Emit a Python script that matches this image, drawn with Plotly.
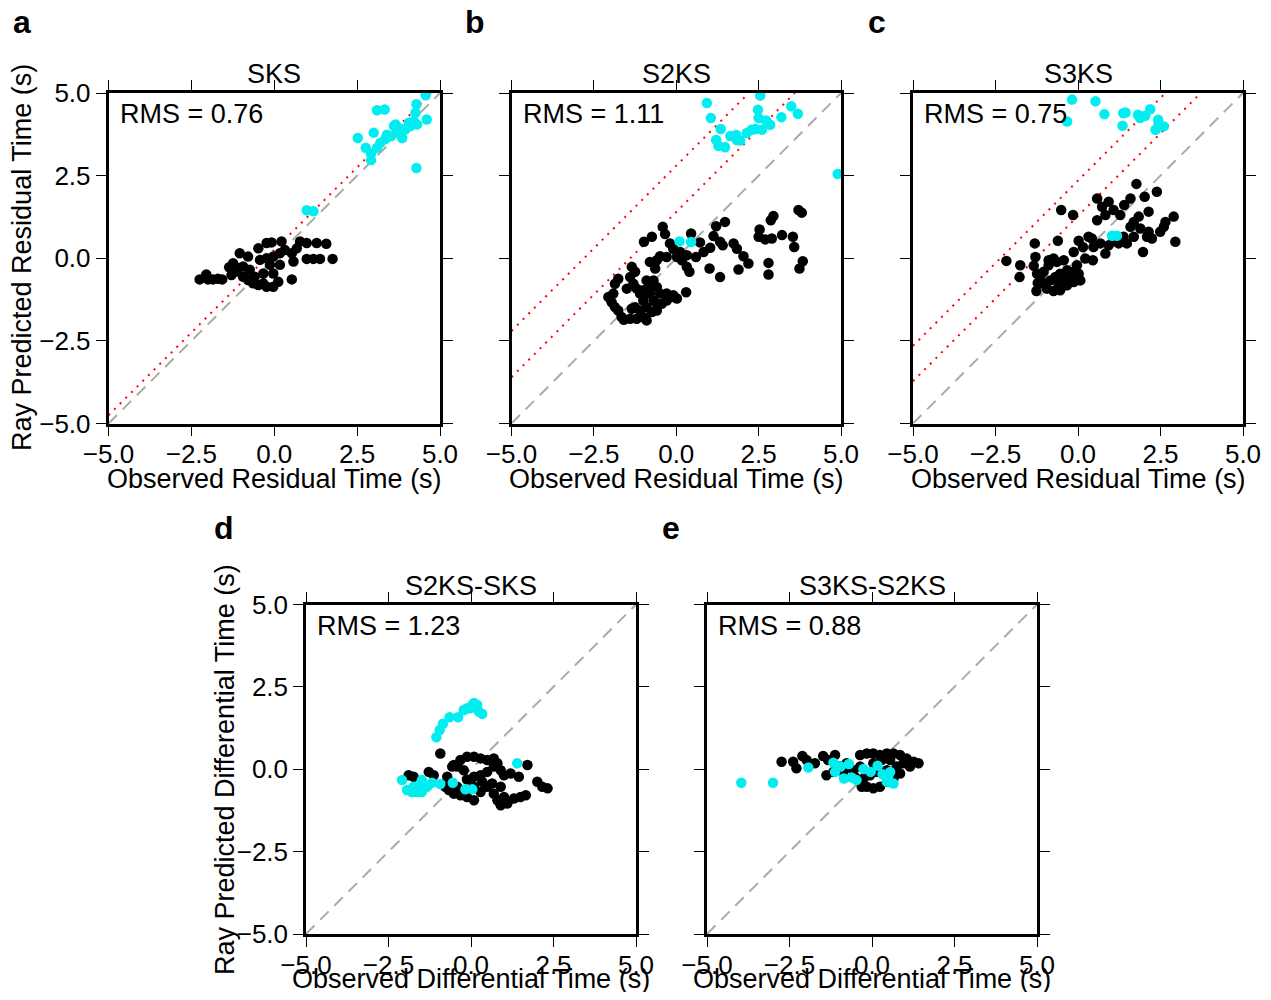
import plotly.graph_objects as go

# ---------------- data ----------------
tick_vals = [-5, -2.5, 0, 2.5, 5]
tick_text = ["\u22125.0", "\u22122.5", "0.0", "2.5", "5.0"]

panel_letters = ["a", "b", "c", "d", "e"]
panel_titles = ["SKS", "S2KS", "S3KS", "S2KS-SKS", "S3KS-S2KS"]
rms_values = [0.76, 1.11, 0.75, 1.23, 0.88]
red_offsets = [[0.25], [1.4, 2.8], [1.28, 2.35], [], []]

a_black_x = [-2.25, -2.05, -1.85, -1.57, -1.36, -1.24, -1.04, -0.79, -1.14, -0.94, -0.74, -0.64, -0.48, -0.33,
             -0.23, -0.03, 0.12, -0.48, -0.23, -0.08, 0.22, -0.03, 0.17, -0.13, -0.33, -0.03, 0.53, 0.58, 0.53,
             0.68, 0.78, 0.98, 1.28, 1.57, 0.98, 1.18, 1.38, 1.76, -0.94, -1.19, -1.29, -0.79, -0.59, -0.43,
             -0.23, 0.32, 0.17, -2.0, -1.7]
a_black_y = [-0.64, -0.49, -0.64, -0.64, -0.27, -0.15, 0.15, 0.05, -0.40, -0.56, -0.35, -0.76, -0.81, -0.76,
             -0.86, -0.86, -0.71, 0.30, 0.46, 0.48, 0.51, 0.05, -0.20, -0.20, -0.46, -0.46, -0.64, -0.10, 0.15,
             0.30, 0.51, 0.46, 0.46, 0.44, -0.02, -0.02, -0.02, -0.02, -0.25, -0.25, -0.51, -0.66, -0.56, -0.05,
             0.0, 0.25, 0.15, -0.64, -0.62]
a_cyan_x = [0.98, 1.18, 3.10, 3.33, 2.52, 2.76, 2.92, 2.92, 3.0, 3.2, 3.35, 3.51, 3.61, 3.76, 3.86, 3.96, 4.11,
            4.21, 4.26, 4.29, 4.57, 4.60, 4.29, 4.06, 4.31, 3.81, 3.66, 3.40, 3.10]
a_cyan_y = [1.45, 1.42, 4.48, 4.50, 3.64, 3.34, 3.17, 2.97, 3.80, 3.49, 3.61, 3.69, 4.0, 3.80, 3.64, 3.90, 4.0,
            4.15, 4.40, 4.66, 4.93, 4.20, 2.73, 4.10, 4.05, 3.92, 4.05, 3.74, 3.34]

b_black_x = [3.71, 3.81, 2.95, 2.87, 2.53, 2.50, 2.70, 2.90, 3.21, 3.54, 3.58, 3.84, 3.74, 2.80, 2.80,
             1.48, 1.21, 1.13, 1.33, 1.41, 1.74, 1.84, 2.04, 2.19, 1.89, 1.01, 1.33, 0.40, 0.45, 0.72, 1.03,
             0.83, 0.60, 0.32, 0.12, -0.09, -0.29, -0.49, -0.59, -0.80, -0.98, -0.74, -0.41, -0.34, -0.19,
             0.02, 0.17, 0.32,
             -1.35, -1.25, -1.40, -1.30, -1.20, -1.10, -1.00, -0.90, -0.74, -0.59, -0.44, -0.29, -0.14, 0.02,
             0.30, -0.49, -0.59, -0.69, -0.64, -0.90, -1.00, -1.10, -1.00, -1.20, -1.40, -1.59, -1.66, -1.76,
             -1.86, -1.96, -2.06, -1.91, -1.86, -1.76, -1.50, -1.35, -1.25, -0.80, -0.69, -0.59, -0.29, -0.09,
             -0.90, -0.85]
b_black_y = [1.46, 1.38, 1.28, 1.15, 0.87, 0.65, 0.57, 0.60, 0.70, 0.65, 0.34, -0.09, -0.31, -0.14, -0.49,
             1.10, 0.97, 0.67, 0.50, 0.39, 0.45, 0.29, 0.06, -0.16, -0.34, -0.31, -0.57, -0.41, 0.75, 0.48, 0.32,
             0.19, 0.04, 0.09, 0.19, 0.29, 0.04, 0.06, -0.06, -0.11, 0.50, 0.65, 0.95, 0.73, 0.45,
             0.04, -0.06, -0.26,
             -0.26, -0.41, -0.57, -0.77, -0.92, -1.07, -1.28, -1.48, -1.63, -1.58, -1.38, -1.28, -1.17, -1.22,
             -1.03, -1.07, -0.87, -0.67, -0.31, -0.67, -0.97, -1.58, -1.78, -1.83, -1.83, -1.86, -1.78, -1.58,
             -1.48, -1.33, -1.17, -1.07, -0.77, -0.62, -0.92, -1.53, -1.48, -1.07, -1.28, -1.38, -1.07, -1.12,
             -1.88, -0.92]
b_cyan_x = [0.10, 0.45, 4.90, 0.93, 1.05, 1.35, 1.21, 1.28, 1.48, 1.64, 1.82, 1.84, 2.14, 2.29, 2.40, 2.60,
            2.73, 2.85, 2.50, 2.48, 2.55, 3.19, 3.49, 3.69, 1.94]
b_cyan_y = [0.51, 0.49, 2.55, 4.70, 4.24, 3.91, 3.58, 3.40, 3.36, 3.70, 3.73, 3.58, 3.79, 3.89, 3.91, 3.89,
            4.17, 4.04, 4.24, 4.49, 4.92, 4.27, 4.60, 4.37, 3.56]

c_black_x = [-2.17, -1.75, -1.77, -1.31, -1.29, -1.34, -1.26, -1.22, -1.14, -1.04, -0.89, -0.89, -0.74, -0.64,
             -0.43, -0.33, -0.13, 0.02, 0.07, -0.13, -0.33, -0.54, -0.74, -0.94, -0.84, -0.69, -0.54, -1.04,
             -1.24, -0.43, -0.59, -0.28, -0.03, -0.61, -0.51, -0.15, -0.13, 0.02, 0.15, 0.22, 0.45, 0.47, 0.42,
             0.68, 0.83, 0.93, 1.08, 1.23, 1.38, 1.48, 1.69, 1.59, 1.69, 1.84, 1.89, 2.14, 2.09, 2.24, 2.49,
             2.60, 2.65, 2.90, 2.95, 1.97, 2.14, 2.39, 2.02, 1.77, 1.59, 1.40, 1.28, 1.08, 0.93, 0.73, 0.58,
             0.83, 0.58, 0.32]
c_black_y = [-0.08, -0.21, -0.57, 0.45, 0.04, -0.23, -0.99, -0.75, -0.57, -0.41, -0.21, -0.06, -0.01, -0.11,
             -0.06, -0.36, -0.41, -0.47, -0.67, -0.72, -0.82, -0.97, -0.99, -0.92, -0.67, -0.57, -0.47, -0.77,
             -0.47, -0.67, -0.77, -0.57, -0.21, 0.53, 1.46, 1.31, 0.19, 0.53, 0.34, -0.01, -0.06, 0.34, 0.60,
             0.45, 0.14, 0.39, 0.55, 0.45, 0.65, 0.45, 0.65, 0.95, 1.10, 1.26, 0.90, 0.80, 0.65, 0.60, 0.80,
             0.95, 1.10, 1.26, 0.50, 0.19, 1.41, 2.01, 1.86, 2.25, 1.81, 1.61, 1.31, 1.46, 1.71, 1.56, 1.81,
             1.31, 1.15, 0.65]
c_cyan_x = [1.03, 1.18, -0.33, -0.18, 0.53, 0.80, 1.37, 1.44, 1.35, 1.82, 1.88, 2.04, 2.19, 2.43, 2.60, 2.35,
            2.44]
c_cyan_y = [0.68, 0.68, 4.14, 4.80, 4.75, 4.36, 4.39, 4.41, 4.01, 4.34, 4.24, 4.31, 4.51, 4.19, 3.99, 3.89,
            4.04]

d_black_x = [-0.93, -0.52, -0.32, -0.12, 0.09, 0.29, 0.49, 0.69, 0.80, 0.90, 1.00, 0.69, 0.49, 0.29, 0.09,
             -0.12, -0.22, -0.42, -0.57, -0.72, -0.78, -0.67, -0.52, -0.32, -0.12, 0.09, 0.29, 0.49, 0.64, 0.69,
             0.80, 0.90, 1.10, 1.30, 1.50, 1.66, 0.90, 1.20, 1.45, 1.71, 2.01, 2.16, 2.32, -1.28, -1.13, -1.89,
             -1.74, 0.09, 0.34, 1.00, -0.42]
d_black_y = [0.48, 0.13, 0.28, 0.38, 0.38, 0.33, 0.28, 0.33, 0.18, -0.03, -0.18, 0.08, -0.08, -0.18, -0.23,
             -0.31, -0.03, 0.08, 0.08, -0.23, -0.53, -0.63, -0.74, -0.79, -0.84, -0.94, -0.69, -0.53, -0.43,
             -0.74, -0.94, -1.09, -1.04, -0.89, -0.84, -0.79, -0.53, -0.13, -0.23, 0.13, -0.38, -0.53, -0.58,
             -0.08, -0.18, -0.18, -0.23, -0.53, -0.38, -0.84, -0.53]
d_cyan_x = [-1.05, -0.95, -0.85, -0.65, -0.39, -0.22, -0.12, 0.04, 0.09, 0.19, 0.34, 0.24, -0.02, 1.40, -2.09,
            -1.94, -1.79, -1.64, -1.49, -1.59, -1.49, -1.33, -1.18, -0.93, -0.55, -0.17, 0.04, -1.74, -1.84]
d_cyan_y = [0.97, 1.19, 1.38, 1.58, 1.58, 1.80, 1.85, 1.95, 2.01, 1.95, 1.68, 1.75, 1.85, 0.18, -0.33, -0.63,
            -0.69, -0.69, -0.69, -0.53, -0.33, -0.53, -0.41, -0.45, -0.41, -0.61, -0.61, -0.53, -0.63]

e_black_x = [-2.74, -2.39, -2.29, -2.11, -1.98, -1.73, -1.48, -1.33, -1.12, -1.38, -1.17, -0.97, -0.77, -0.57,
             -0.36, -0.36, -0.16, 0.04, 0.24, 0.45, 0.65, 0.85, 1.05, 1.26, 1.41, 1.15, 0.85, 0.65, 0.45, 0.24,
             0.04, -0.16, -0.31, -0.26, -0.06, 0.14, 0.45, 0.75, 0.04, 0.29, 0.55, 0.95, -0.52, -0.87]
e_black_y = [0.23, 0.23, 0.03, 0.40, 0.28, 0.18, 0.40, 0.28, 0.43, -0.18, -0.08, 0.08, 0.18, -0.03, 0.08, 0.43,
             0.48, 0.48, 0.43, 0.48, 0.48, 0.43, 0.33, 0.23, 0.18, 0.08, -0.13, -0.28, -0.38, -0.53, -0.58,
             -0.53, -0.53, -0.28, -0.18, -0.08, -0.03, 0.08, 0.18, 0.28, 0.28, 0.18, -0.23, -0.08]
e_cyan_x = [-3.96, -3.00, -1.93, -1.17, -1.12, -0.95, -0.70, -0.85, -0.62, -0.47, -0.26, -0.04, 0.17, 0.32,
            0.55, 0.45, 0.65, 0.49]
e_cyan_y = [-0.41, -0.41, 0.05, 0.20, -0.08, 0.08, 0.16, -0.28, -0.25, -0.33, 0.01, -0.08, 0.11, -0.15, -0.08,
            -0.38, -0.43, -0.23]

black_x = [a_black_x, b_black_x, c_black_x, d_black_x, e_black_x]
black_y = [a_black_y, b_black_y, c_black_y, d_black_y, e_black_y]
cyan_x = [a_cyan_x, b_cyan_x, c_cyan_x, d_cyan_x, e_cyan_x]
cyan_y = [a_cyan_y, b_cyan_y, c_cyan_y, d_cyan_y, e_cyan_y]

# ---------------- layout geometry (page pixels) ----------------
PAGE_W, PAGE_H = 1271, 1000
OFF = 8  # default body margin of the html page
W, H = PAGE_W - 2 * OFF, PAGE_H - 2 * OFF
panels_px = [  # left, right, top, bottom in page pixels
    (108.5, 440, 93, 423.5),
    (511.5, 841, 93, 423.5),
    (913, 1243, 93, 423.5),
    (306, 636, 604.5, 934),
    (707, 1037, 604.5, 934),
]
xtitle_gap = [55, 55, 55, 45, 45]


def fx(px):
    return (px - OFF) / W


def fy(py):
    return 1 - (py - OFF) / H


FONT = "Liberation Sans, Arial, Helvetica, sans-serif"
BLACK_C = "#000000"
CYAN_C = "#00EEF0"

fig = go.Figure()
layout = dict(width=W, height=H, autosize=False,
              margin=dict(l=0, r=0, t=0, b=0, pad=0, autoexpand=False),
              paper_bgcolor="white", plot_bgcolor="white", showlegend=False,
              font=dict(family=FONT, size=26, color="black"))
annotations = []

for i in range(5):
    l, r, t, b = panels_px[i]
    xa = "x" if i == 0 else f"x{i+1}"
    ya = "y" if i == 0 else f"y{i+1}"
    xkey = "xaxis" if i == 0 else f"xaxis{i+1}"
    ykey = "yaxis" if i == 0 else f"yaxis{i+1}"
    show_y_labels = i in (0, 3)
    common = dict(range=[-5, 5], tickmode="array", tickvals=tick_vals, ticktext=tick_text,
                  ticks="outside", ticklen=10, tickwidth=1.2, tickcolor="black",
                  showline=True, linecolor="black", linewidth=2.5, mirror="allticks",
                  showgrid=False, zeroline=False, automargin=False,
                  tickfont=dict(size=26, family=FONT))
    layout[xkey] = dict(domain=[fx(l), fx(r)], anchor=ya, showticklabels=True,
                        ticklabelstandoff=-4, **common)
    layout[ykey] = dict(domain=[fy(b), fy(t)], anchor=xa, showticklabels=show_y_labels, **common)

    # 1:1 gray dashed line
    fig.add_trace(go.Scatter(x=[-5, 5], y=[-5, 5], mode="lines", xaxis=xa, yaxis=ya,
                             line=dict(color="#aaaaaa", width=2, dash="12px,8px"), hoverinfo="skip"))
    # red dotted offset lines
    for c in red_offsets[i]:
        fig.add_trace(go.Scatter(x=[-5, 5 - c], y=[-5 + c, 5], mode="lines", xaxis=xa, yaxis=ya,
                                 line=dict(color="red", width=2, dash="2px,6px"), hoverinfo="skip"))
    fig.add_trace(go.Scatter(x=black_x[i], y=black_y[i], mode="markers", xaxis=xa, yaxis=ya,
                             marker=dict(color=BLACK_C, size=10.5), cliponaxis=True))
    fig.add_trace(go.Scatter(x=cyan_x[i], y=cyan_y[i], mode="markers", xaxis=xa, yaxis=ya,
                             marker=dict(color=CYAN_C, size=10.5), cliponaxis=True))

    cx = (l + r) / 2
    annotations.append(dict(text=panel_titles[i], x=fx(cx), y=fy(t - 19), xref="paper", yref="paper",
                            showarrow=False, xanchor="center", yanchor="middle", font=dict(size=27)))
    annotations.append(dict(text=f"RMS = {rms_values[i]:.2f}", x=fx(l + 9), y=fy(t + 21),
                            xref="paper", yref="paper", showarrow=False, xanchor="left", yanchor="middle",
                            font=dict(size=27)))
    xt = "Observed Residual Time (s)" if i < 3 else "Observed Differential Time (s)"
    annotations.append(dict(text=xt, x=fx(cx), y=fy(b + xtitle_gap[i]), xref="paper", yref="paper",
                            showarrow=False, xanchor="center", yanchor="middle", font=dict(size=27)))

letters_pos = [(11, 22), (463, 22), (866, 22), (212, 528), (660, 528)]
for k, (px, py) in enumerate(letters_pos):
    annotations.append(dict(text=f"<b>{panel_letters[k]}</b>", x=fx(px), y=fy(py), xref="paper",
                            yref="paper", showarrow=False, xanchor="left", yanchor="middle",
                            font=dict(size=32)))

annotations.append(dict(text="Ray Predicted Residual Time (s)", x=fx(22), y=fy(258), xref="paper",
                        yref="paper", showarrow=False, textangle=-90, xanchor="center", yanchor="middle",
                        font=dict(size=27)))
annotations.append(dict(text="Ray Predicted Differential Time (s)", x=fx(225), y=fy(770), xref="paper",
                        yref="paper", showarrow=False, textangle=-90, xanchor="center", yanchor="middle",
                        font=dict(size=27)))

layout["annotations"] = annotations
fig.update_layout(**layout)
fig.write_html("out.html", config={"responsive": False})
